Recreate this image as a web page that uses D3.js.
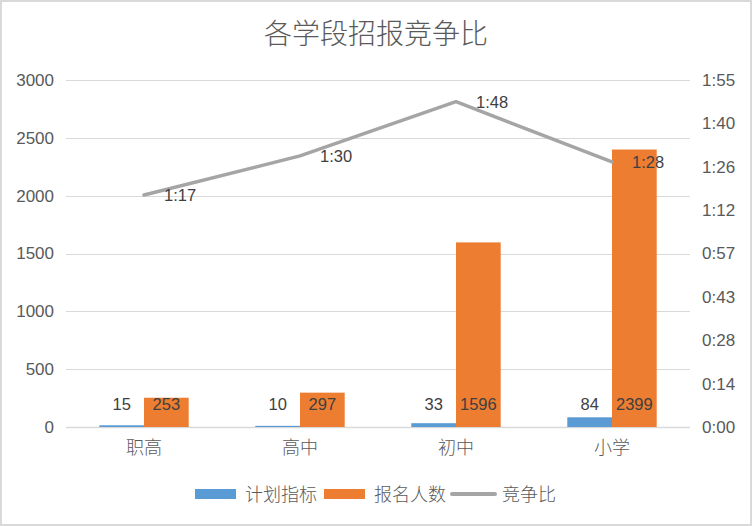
<!DOCTYPE html>
<html>
<head>
<meta charset="utf-8">
<script src="https://cdn.jsdelivr.net/npm/d3@7/dist/d3.min.js"></script>
<style>
  html, body { margin: 0; padding: 0; background: #fff; }
  svg { display: block; }
</style>
</head>
<body>
<script>
const categories = ["职高", "高中", "初中", "小学"];
const planValues = [15, 10, 33, 84];          // 计划指标
const applyValues = [253, 297, 1596, 2399];   // 报名人数
const ratioLabels = ["1:17", "1:30", "1:48", "1:28"]; // 竞争比 (h:mm)
const leftTicks = [0, 500, 1000, 1500, 2000, 2500, 3000];
const rightTickLabels = ["0:00", "0:14", "0:28", "0:43", "0:57", "1:12", "1:26", "1:40", "1:55"];
const seriesNames = ["计划指标", "报名人数", "竞争比"];

const W = 752, H = 526;
const M = { left: 66, right: 690, top: 80, bottom: 427 };
const colors = { plan: "#5b9bd5", apply: "#ed7d31", ratio: "#a5a5a5" };
const numFont = "'Liberation Sans', Arial, sans-serif";
const cjkFont = "'Noto Sans CJK SC', sans-serif";

const toMinutes = s => { const [h, m] = s.split(":").map(Number); return h * 60 + m; };
const ratioMinutes = ratioLabels.map(toMinutes);

const svg = d3.select("body").append("svg").attr("width", W).attr("height", H);

svg.append("rect").attr("x", 1).attr("y", 1).attr("width", W - 2).attr("height", H - 2)
  .attr("fill", "#fff").attr("stroke", "#d9d9d9").attr("stroke-width", 2);

const x0 = d3.scaleBand().domain(categories).range([M.left, M.right]).padding(0);
const x1 = d3.scaleBand().domain(["plan", "apply"]).range([0, x0.bandwidth()])
  .paddingInner(0).paddingOuter(0.745);
const y = d3.scaleLinear().domain([0, 3000]).range([M.bottom, M.top]);
const yR = d3.scaleLinear().domain([0, 115.2]).range([M.bottom, M.top]);

// grid
svg.append("g").selectAll("line").data(leftTicks).join("line")
  .attr("x1", M.left).attr("x2", M.right)
  .attr("y1", d => Math.round(y(d)) + 0.5).attr("y2", d => Math.round(y(d)) + 0.5)
  .attr("stroke", "#d9d9d9").attr("stroke-width", d => d === 0 ? 1.5 : 1);

// left axis
const leftAxis = d3.axisLeft(y).tickValues(leftTicks).tickSize(0).tickPadding(12).tickFormat(d3.format("d"));
const gl = svg.append("g").attr("transform", `translate(${M.left},0)`).call(leftAxis);
gl.select(".domain").remove();
gl.selectAll("text").attr("font-family", numFont).attr("font-size", 17).attr("fill", "#595959");

// right axis
const rightTickVals = rightTickLabels.map((d, i) => i * 115.2 / 8);
const rightAxis = d3.axisRight(yR).tickValues(rightTickVals).tickSize(0).tickPadding(12)
  .tickFormat((d, i) => rightTickLabels[i]);
const gr = svg.append("g").attr("transform", `translate(${M.right},0)`).call(rightAxis);
gr.select(".domain").remove();
gr.selectAll("text").attr("font-family", numFont).attr("font-size", 17).attr("fill", "#595959");

// category axis
const bx = d3.axisBottom(x0).tickSize(0).tickPadding(14);
const gb = svg.append("g").attr("transform", `translate(0,${M.bottom})`).call(bx);
gb.select(".domain").remove();
gb.selectAll("text").attr("font-family", cjkFont).attr("font-size", 18).attr("font-weight", 300).attr("fill", "#595959");

// bars
const rows = categories.map((c, i) => ({ c, plan: planValues[i], apply: applyValues[i] }));
const groups = svg.append("g").selectAll("g").data(rows).join("g")
  .attr("transform", d => `translate(${x0(d.c)},0)`);
groups.selectAll("rect").data(d => [{ k: "plan", v: d.plan }, { k: "apply", v: d.apply }]).join("rect")
  .attr("x", d => x1(d.k)).attr("width", x1.bandwidth())
  .attr("y", d => y(d.v)).attr("height", d => y(0) - y(d.v))
  .attr("fill", d => colors[d.k]);
groups.selectAll("text").data(d => [{ k: "plan", v: d.plan }, { k: "apply", v: d.apply }]).join("text")
  .attr("x", d => x1(d.k) + x1.bandwidth() / 2)
  .attr("y", y(0) - 17)
  .attr("text-anchor", "middle")
  .attr("font-family", numFont).attr("font-size", 16.5).attr("fill", "#404040")
  .text(d => d.v);

// line
const pts = categories.map((c, i) => [x0(c) + x0.bandwidth() / 2, yR(ratioMinutes[i])]);
svg.append("path").datum(pts)
  .attr("d", d3.line())
  .attr("fill", "none").attr("stroke", colors.ratio).attr("stroke-width", 3.5)
  .attr("stroke-linejoin", "round").attr("stroke-linecap", "round");
svg.append("g").selectAll("text").data(pts).join("text")
  .attr("x", d => d[0] + 20).attr("y", d => d[1] + 6)
  .attr("font-family", numFont).attr("font-size", 16.5).attr("fill", "#404040")
  .text((d, i) => ratioLabels[i]);

// title
svg.append("text").attr("x", 376).attr("y", 44).attr("text-anchor", "middle")
  .attr("font-family", cjkFont).attr("font-size", 28).attr("font-weight", 300).attr("fill", "#595959")
  .text("各学段招报竞争比");

// legend
const lg = svg.append("g").attr("font-family", cjkFont).attr("font-size", 18).attr("font-weight", 300).attr("fill", "#595959");
const legendItems = [
  { name: seriesNames[0], type: "rect", color: colors.plan, x: 195 },
  { name: seriesNames[1], type: "rect", color: colors.apply, x: 324 },
  { name: seriesNames[2], type: "line", color: colors.ratio, x: 451 }
];
legendItems.forEach(it => {
  if (it.type === "rect") {
    lg.append("rect").attr("x", it.x).attr("y", 489).attr("width", 41).attr("height", 10).attr("fill", it.color);
  } else {
    lg.append("line").attr("x1", it.x + 1).attr("x2", it.x + 44).attr("y1", 494).attr("y2", 494)
      .attr("stroke", it.color).attr("stroke-width", 4).attr("stroke-linecap", "round");
  }
  lg.append("text").attr("x", it.x + (it.type === "rect" ? 50 : 51)).attr("y", 500.5).text(it.name);
});
</script>
</body>
</html>
